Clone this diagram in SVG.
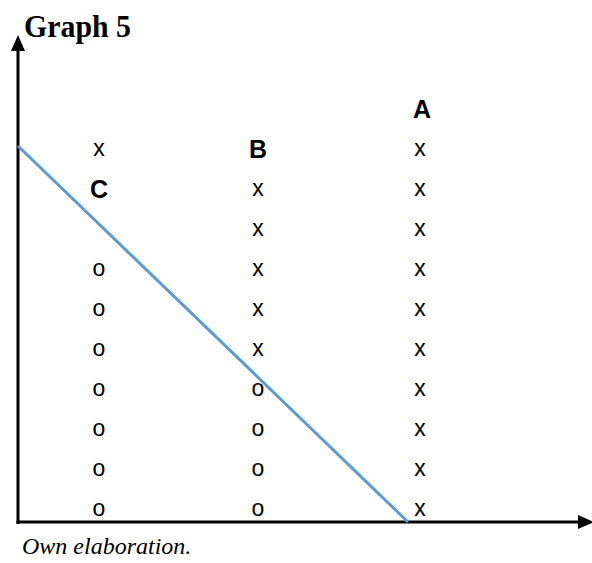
<svg xmlns="http://www.w3.org/2000/svg" width="592" height="563" viewBox="0 0 592 563">
<style>
.m{font-family:"Liberation Sans",Arial,sans-serif;font-size:23px;fill:#000;text-anchor:middle}
.l{font-family:"Liberation Sans",Arial,sans-serif;font-size:25px;font-weight:bold;fill:#000;text-anchor:middle}
.t{font-family:"Liberation Serif","Times New Roman",serif;fill:#000}
</style>
<rect width="592" height="563" fill="#fff"/>
<g id="axes">
<line x1="18" y1="524" x2="18" y2="48" stroke="#000" stroke-width="3"/>
<polygon points="18,35 11,51 25,51" fill="#000"/>
<line x1="16.5" y1="522" x2="580" y2="522" stroke="#000" stroke-width="3"/>
<polygon points="594,522 578,515 578,529" fill="#000"/>
</g>
<text class="t" x="24" y="37" font-size="32" font-weight="bold" textLength="107" lengthAdjust="spacingAndGlyphs">Graph 5</text>
<g id="connectors">
<line x1="18" y1="146" x2="408" y2="522" stroke="#5B9BD5" stroke-width="3"/>
</g>
<g id="colC">
<text class="m" x="99" y="156">x</text>
<text class="l" x="99" y="198">C</text>
<text class="m" x="99" y="276">o</text>
<text class="m" x="99" y="316">o</text>
<text class="m" x="99" y="356">o</text>
<text class="m" x="99" y="396">o</text>
<text class="m" x="99" y="436">o</text>
<text class="m" x="99" y="476">o</text>
<text class="m" x="99" y="516">o</text>
</g>
<g id="colB">
<text class="l" x="258" y="158">B</text>
<text class="m" x="258" y="196">x</text>
<text class="m" x="258" y="236">x</text>
<text class="m" x="258" y="276">x</text>
<text class="m" x="258" y="316">x</text>
<text class="m" x="258" y="356">x</text>
<text class="m" x="258" y="396">o</text>
<text class="m" x="258" y="436">o</text>
<text class="m" x="258" y="476">o</text>
<text class="m" x="258" y="516">o</text>
</g>
<g id="colA">
<text class="l" x="422" y="118">A</text>
<text class="m" x="420" y="156">x</text>
<text class="m" x="420" y="196">x</text>
<text class="m" x="420" y="236">x</text>
<text class="m" x="420" y="276">x</text>
<text class="m" x="420" y="316">x</text>
<text class="m" x="420" y="356">x</text>
<text class="m" x="420" y="396">x</text>
<text class="m" x="420" y="436">x</text>
<text class="m" x="420" y="476">x</text>
<text class="m" x="420" y="516">x</text>
</g>
<text class="t" x="22" y="554" font-size="24" font-style="italic">Own elaboration.</text>
</svg>
